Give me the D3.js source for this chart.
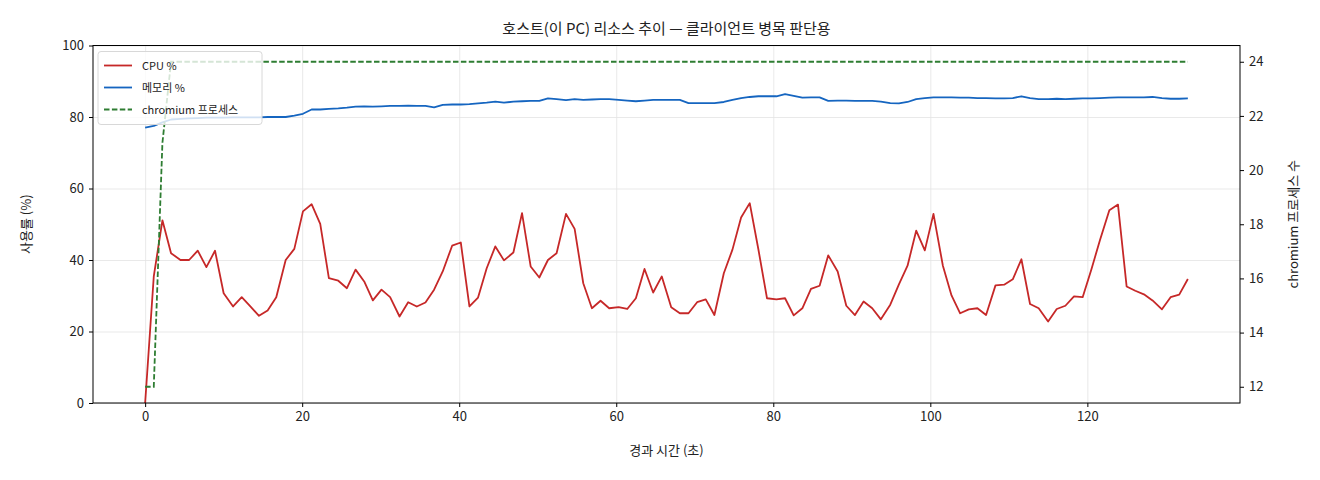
<!DOCTYPE html>
<html>
<head>
<meta charset="utf-8">
<script src="https://cdn.jsdelivr.net/npm/d3@7"></script>
<style>
  body { margin: 0; background: #fff; }
  svg text { font-family: "Noto Sans CJK KR", "Noto Sans", sans-serif; fill: #222; }
  .grid line { stroke: #e3e3e3; stroke-width: 0.8; }
  .grid path { display: none; }
</style>
</head>
<body>
<div class="chart-container"></div>
<script>
// elapsed seconds for each sample
const times = [
  0, 1.1, 2.2, 3.3, 4.5, 5.6, 6.7, 7.8, 8.9, 10.0,
  11.2, 12.3, 13.4, 14.5, 15.6, 16.7, 17.9, 19.0, 20.1, 21.2,
  22.3, 23.4, 24.6, 25.7, 26.8, 27.9, 29.0, 30.1, 31.2, 32.4,
  33.5, 34.6, 35.7, 36.8, 37.9, 39.1, 40.2, 41.3, 42.4, 43.5,
  44.6, 45.7, 46.9, 48.0, 49.1, 50.2, 51.3, 52.4, 53.6, 54.7,
  55.8, 56.9, 58.0, 59.1, 60.3, 61.4, 62.5, 63.6, 64.7, 65.8,
  67.0, 68.1, 69.2, 70.3, 71.4, 72.5, 73.7, 74.8, 75.9, 77.0,
  78.1, 79.2, 80.4, 81.5, 82.6, 83.7, 84.8, 85.9, 87.0, 88.2,
  89.3, 90.4, 91.5, 92.6, 93.7, 94.9, 96.0, 97.1, 98.2, 99.3,
  100.4, 101.6, 102.7, 103.8, 104.9, 106.0, 107.1, 108.3, 109.4, 110.5,
  111.6, 112.7, 113.8, 115.0, 116.1, 117.2, 118.3, 119.4, 120.5, 121.6,
  122.8, 123.9, 125.0, 126.1, 127.2, 128.3, 129.5, 130.6, 131.7, 132.8
];

const cpuValues = [
  0, 35.4, 51.1, 41.9, 40.0, 40.0, 42.6, 38.0, 42.6, 30.7,
  27.0, 29.6, 27.0, 24.4, 25.9, 29.6, 40.0, 43.1, 53.6, 55.6,
  50.1, 34.9, 34.2, 32.1, 37.3, 34.0, 28.7, 31.7, 29.6, 24.2,
  28.2, 27.0, 28.1, 31.7, 36.8, 44.0, 44.9, 27.0, 29.5, 37.7,
  43.8, 39.9, 42.1, 53.1, 38.2, 35.1, 40.0, 41.9, 52.9, 48.7,
  33.5, 26.5, 28.6, 26.5, 26.8, 26.3, 29.3, 37.5, 30.9, 35.4,
  26.8, 25.1, 25.1, 28.2, 29.0, 24.6, 36.3, 42.9, 51.9, 55.9,
  43.0, 29.3, 29.0, 29.3, 24.5, 26.5, 31.9, 32.8, 41.3, 36.8,
  27.2, 24.6, 28.4, 26.5, 23.4, 27.5, 33.2, 38.4, 48.2, 42.7,
  52.9, 38.4, 30.1, 25.1, 26.2, 26.5, 24.6, 32.9, 33.1, 34.6,
  40.2, 27.7, 26.5, 22.8, 26.3, 27.2, 29.8, 29.6, 37.3, 45.5,
  53.9, 55.5, 32.6, 31.4, 30.4, 28.7, 26.2, 29.6, 30.3, 34.7
];

const memValues = [
  77.0, 77.5, 78.5, 79.3, 79.5, 79.6, 79.7, 79.8, 79.8, 79.8,
  79.9, 79.9, 79.9, 79.9, 80.0, 80.0, 80.0, 80.4, 80.9, 82.1,
  82.1, 82.3, 82.4, 82.6, 82.9, 83.0, 82.9, 83.0, 83.1, 83.1,
  83.2, 83.1, 83.1, 82.7, 83.4, 83.5, 83.5, 83.6, 83.8, 84.0,
  84.3, 84.0, 84.3, 84.4, 84.5, 84.5, 85.2, 85.0, 84.7, 85.0,
  84.8, 84.9, 85.0, 85.0, 84.8, 84.6, 84.4, 84.6, 84.8, 84.8,
  84.8, 84.8, 83.9, 83.9, 83.9, 83.9, 84.2, 84.8, 85.3, 85.6,
  85.8, 85.8, 85.8, 86.4, 85.9, 85.4, 85.5, 85.5, 84.5, 84.6,
  84.6, 84.5, 84.5, 84.5, 84.3, 83.9, 83.8, 84.2, 85.0, 85.3,
  85.5, 85.5, 85.5, 85.4, 85.4, 85.3, 85.3, 85.2, 85.2, 85.3,
  85.8, 85.3, 85.0, 85.0, 85.1, 85.0, 85.1, 85.2, 85.2, 85.3,
  85.4, 85.5, 85.5, 85.5, 85.5, 85.6, 85.3, 85.1, 85.1, 85.2
];

const procValues = [
  12, 12, 21, 24, 24, 24, 24, 24, 24, 24,
  24, 24, 24, 24, 24, 24, 24, 24, 24, 24,
  24, 24, 24, 24, 24, 24, 24, 24, 24, 24,
  24, 24, 24, 24, 24, 24, 24, 24, 24, 24,
  24, 24, 24, 24, 24, 24, 24, 24, 24, 24,
  24, 24, 24, 24, 24, 24, 24, 24, 24, 24,
  24, 24, 24, 24, 24, 24, 24, 24, 24, 24,
  24, 24, 24, 24, 24, 24, 24, 24, 24, 24,
  24, 24, 24, 24, 24, 24, 24, 24, 24, 24,
  24, 24, 24, 24, 24, 24, 24, 24, 24, 24,
  24, 24, 24, 24, 24, 24, 24, 24, 24, 24,
  24, 24, 24, 24, 24, 24, 24, 24, 24, 24
];

const xTicks = [0, 20, 40, 60, 80, 100, 120];
const leftTicks = [0, 20, 40, 60, 80, 100];
const rightTicks = [12, 14, 16, 18, 20, 22, 24];

const seriesNames = ['CPU %', '메모리 %', 'chromium 프로세스'];
const seriesColors = ['#c62828', '#1565c0', '#2e7d32'];

const totalWidth = 1320;
const totalHeight = 480;
const margin = { top: 45.5, right: 80, bottom: 77, left: 93 };
const width = totalWidth - margin.left - margin.right;
const height = totalHeight - margin.top - margin.bottom;

const svg = d3.select('.chart-container')
  .append('svg')
  .attr('width', totalWidth)
  .attr('height', totalHeight);

const g = svg.append('g')
  .attr('transform', `translate(${margin.left}, ${margin.top})`);

// scales (matplotlib-like 5% padding)
const tMax = d3.max(times);
const xScale = d3.scaleLinear()
  .domain([-0.05 * tMax, 1.05 * tMax])
  .range([0, width]);

const yLeft = d3.scaleLinear()
  .domain([0, 100])
  .range([height, 0]);

const pMin = d3.min(procValues), pMax = d3.max(procValues);
const pPad = (pMax - pMin) * 0.05;
const yRight = d3.scaleLinear()
  .domain([pMin - pPad, pMax + pPad])
  .range([height, 0]);

// gridlines
g.append('g')
  .attr('class', 'grid')
  .attr('transform', `translate(0, ${height})`)
  .call(d3.axisBottom(xScale).tickValues(xTicks).tickSize(-height).tickFormat(''));

g.append('g')
  .attr('class', 'grid')
  .call(d3.axisLeft(yLeft).tickValues(leftTicks).tickSize(-width).tickFormat(''));

// lines
const leftLine = d3.line()
  .x((d, i) => xScale(times[i]))
  .y(d => yLeft(d));

const rightLine = d3.line()
  .x((d, i) => xScale(times[i]))
  .y(d => yRight(d));

g.append('path')
  .datum(cpuValues)
  .attr('fill', 'none')
  .attr('stroke', seriesColors[0])
  .attr('stroke-width', 1.8)
  .attr('stroke-linejoin', 'round')
  .attr('d', leftLine);

g.append('path')
  .datum(memValues)
  .attr('fill', 'none')
  .attr('stroke', seriesColors[1])
  .attr('stroke-width', 1.8)
  .attr('stroke-linejoin', 'round')
  .attr('d', leftLine);

g.append('path')
  .datum(procValues)
  .attr('fill', 'none')
  .attr('stroke', seriesColors[2])
  .attr('stroke-width', 1.8)
  .attr('stroke-dasharray', '5.5,2.4')
  .attr('d', rightLine);

// frame
g.append('rect')
  .attr('width', width)
  .attr('height', height)
  .attr('fill', 'none')
  .attr('stroke', '#000')
  .attr('stroke-width', 1);

// axes
function styleAxis(sel) {
  sel.select('.domain').remove();
  sel.selectAll('.tick line').attr('stroke', '#000').attr('stroke-width', 1);
  sel.selectAll('.tick text')
    .style('font-size', '13px')
    .style('font-family', '"Noto Sans CJK KR", "Noto Sans", sans-serif')
    .attr('fill', '#222');
}

g.append('g')
  .attr('transform', `translate(0, ${height})`)
  .call(d3.axisBottom(xScale).tickValues(xTicks).tickSize(4).tickPadding(5))
  .call(styleAxis);

g.append('g')
  .call(d3.axisLeft(yLeft).tickValues(leftTicks).tickSize(4).tickPadding(5))
  .call(styleAxis);

g.append('g')
  .attr('transform', `translate(${width}, 0)`)
  .call(d3.axisRight(yRight).tickValues(rightTicks).tickSize(4).tickPadding(5))
  .call(styleAxis);

// axis labels
g.append('text')
  .attr('x', width / 2)
  .attr('y', height + 52)
  .style('font-size', '13px')
  .style('text-anchor', 'middle')
  .text('경과 시간 (초)');

g.append('text')
  .attr('transform', 'rotate(-90)')
  .attr('x', -height / 2)
  .attr('y', -62)
  .style('font-size', '13px')
  .style('text-anchor', 'middle')
  .text('사용률 (%)');

g.append('text')
  .attr('transform', 'rotate(-90)')
  .attr('x', -height / 2)
  .attr('y', width + 58)
  .style('font-size', '13px')
  .style('text-anchor', 'middle')
  .text('chromium 프로세스 수');

// title
svg.append('text')
  .attr('x', margin.left + width / 2)
  .attr('y', 34)
  .style('font-size', '15px')
  .style('text-anchor', 'middle')
  .text('호스트(이 PC) 리소스 추이 — 클라이언트 병목 판단용');

// legend
const legend = g.append('g').attr('transform', 'translate(5, 6)');
legend.append('rect')
  .attr('width', 164)
  .attr('height', 73)
  .attr('rx', 3)
  .attr('fill', '#fff')
  .attr('fill-opacity', 0.8)
  .attr('stroke', '#d8d8d8')
  .attr('stroke-width', 1);

seriesNames.forEach((name, i) => {
  const yy = 14 + i * 22;
  legend.append('line')
    .attr('x1', 6).attr('x2', 34)
    .attr('y1', yy).attr('y2', yy)
    .attr('stroke', seriesColors[i])
    .attr('stroke-width', 1.8)
    .attr('stroke-dasharray', i === 2 ? '5.5,2.4' : null);
  legend.append('text')
    .attr('x', 44)
    .attr('y', yy + 4)
    .style('font-size', '11px')
    .text(name);
});
</script>
</body>
</html>
